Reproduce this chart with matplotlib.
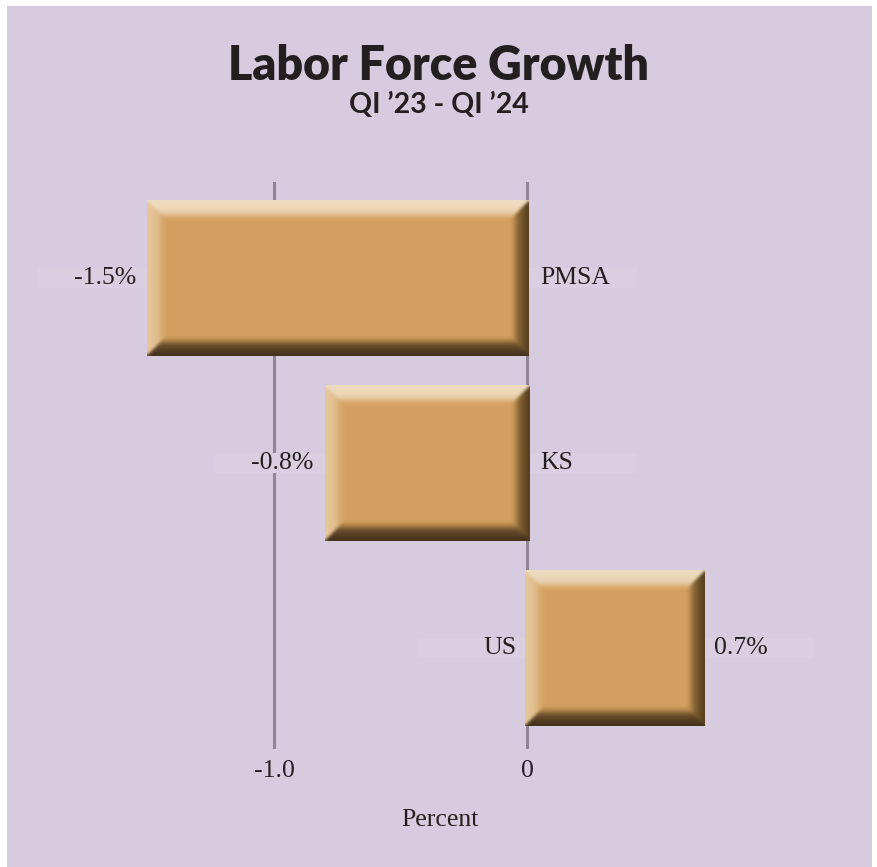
import numpy as np
import matplotlib
matplotlib.use("Agg")
import matplotlib.pyplot as plt
from matplotlib.patches import Rectangle
from matplotlib.colors import to_rgb

# Labor force growth, QI '23 - QI '24 (percent)
regions = ["PMSA", "KS", "US"]
growth = [-1.5, -0.8, 0.7]
value_labels = ["-1.5%", "-0.8%", "0.7%"]
tick_values = [-1.0, 0]
tick_labels = ["-1.0", "0"]

BG = "#D7CCDF"
BOX = "#D9CFE1"
GRID = "#8E8894"
TEXT = "#231F20"
FS = 18.5

W_PX, H_PX, DPI = 877, 867, 100
fig = plt.figure(figsize=(W_PX / DPI, H_PX / DPI), dpi=DPI, facecolor="white")

# lavender panel behind everything
fig.patches.append(Rectangle((7 / W_PX, 0), (872 - 7) / W_PX, (867 - 6) / H_PX,
                             transform=fig.transFigure, facecolor=BG,
                             edgecolor="none", zorder=-10))

# axes placed in pixel terms
ax_l, ax_r, ax_t, ax_b = 7, 872, 182, 749
ax = fig.add_axes([ax_l / W_PX, 1 - ax_b / H_PX,
                   (ax_r - ax_l) / W_PX, (ax_b - ax_t) / H_PX])
ax.set_zorder(5)
ax.set_facecolor("none")
px_per_unit = 253.0
zero_px = 527.0
xmin = -(zero_px - ax_l) / px_per_unit
xmax = (ax_r - zero_px) / px_per_unit
row_px = 185.0
first_center = 278.0
ymin_top = -(first_center - ax_t) / row_px
ymax_bot = (len(regions) - 1) + (ax_b - (first_center + row_px * (len(regions) - 1))) / row_px

bar_h = 0.84


def soften(a, r=2):
    """Average over shifted copies (edge-padded) to soften transitions."""
    H, W = a.shape[:2]
    p = np.pad(a, ((r, r), (r, r), (0, 0)), mode="edge")
    acc = np.zeros_like(a)
    n = 0
    for dy in range(2 * r + 1):
        for dx in range(2 * r + 1):
            acc += p[dy:dy + H, dx:dx + W]
            n += 1
    return acc / n


def bevel_image(width_px, height_px, bevel=16):
    """RGB array for a bevelled bar face."""
    main = np.array(to_rgb("#D4A05E"))
    top_e, top_i = np.array(to_rgb("#EFDDC2")), np.array(to_rgb("#E6CBA4"))
    left_e, left_i = np.array(to_rgb("#E6C79C")), np.array(to_rgb("#DAB07A"))
    right_e, right_i = np.array(to_rgb("#58401F")), np.array(to_rgb("#B0844A"))
    bot_e, bot_i = np.array(to_rgb("#45321C")), np.array(to_rgb("#8A6638"))
    H, W = int(round(height_px)), max(int(round(width_px)), 2)
    ii, jj = np.mgrid[0:H, 0:W].astype(float)
    d = np.stack([ii, H - 1 - ii, jj, W - 1 - jj])  # top, bottom, left, right
    face = np.argmin(d, axis=0)
    dist = np.min(d, axis=0)
    t = np.clip(dist / bevel, 0, 1)[..., None] ** 1.3
    edges = [(top_e, top_i), (bot_e, bot_i), (left_e, left_i), (right_e, right_i)]
    img = np.empty((H, W, 3))
    for k, (e, i_) in enumerate(edges):
        col = e * (1 - t) + i_ * t
        m = face == k
        img[m] = col[m]
    # soft blend into the flat face at the inner edge of the bevel
    blend = np.clip((dist - bevel + 5) / 8, 0, 1)[..., None]
    img = img * (1 - blend) + main * blend
    return np.clip(soften(img, 2), 0, 1)


for y, v in enumerate(growth):
    x0, x1 = min(0, v), max(0, v)
    if v > 0:
        x0 -= 2 / px_per_unit
    else:
        x1 += 2 / px_per_unit
    ax.barh(y, v, height=bar_h, color="#D4A05E", zorder=2)
    img = bevel_image((x1 - x0) * px_per_unit, bar_h * row_px)
    ax.imshow(img, extent=(x0, x1, y + bar_h / 2, y - bar_h / 2),
              aspect="auto", interpolation="nearest", zorder=3)

box_w = 110 / px_per_unit
box_h = 20 / row_px
txt_kw = dict(textcoords="offset pixels", va="center", fontsize=FS,
              color=TEXT, family="Liberation Serif", zorder=4)
for y, (name, v, lab) in enumerate(zip(regions, growth, value_labels)):
    if v < 0:
        # value on the far side of the bar end, name beside the zero line
        ax.add_patch(Rectangle((v - box_w, y - box_h / 2), box_w, box_h,
                               facecolor=BOX, edgecolor="none", zorder=1))
        ax.add_patch(Rectangle((0, y - box_h / 2), box_w, box_h,
                               facecolor=BOX, edgecolor="none", zorder=1))
        ax.annotate(lab, (v, y), xytext=(-11, 0), ha="right", **txt_kw)
        ax.annotate(name, (0, y), xytext=(13, 0), ha="left", **txt_kw)
    else:
        ax.add_patch(Rectangle((v, y - box_h / 2), box_w, box_h,
                               facecolor=BOX, edgecolor="none", zorder=1))
        ax.add_patch(Rectangle((-box_w, y - box_h / 2), box_w, box_h,
                               facecolor=BOX, edgecolor="none", zorder=1))
        ax.annotate(lab, (v, y), xytext=(10, 0), ha="left", **txt_kw)
        ax.annotate(name, (0, y), xytext=(-10, 0), ha="right", **txt_kw)

ax.set_xlim(xmin, xmax)
ax.set_ylim(ymax_bot, ymin_top)
ax.set_xticks(tick_values)
ax.set_xticklabels(tick_labels, family="Liberation Serif", fontsize=FS, color=TEXT)
ax.set_yticks([])
ax.tick_params(axis="x", length=0, pad=8)
ax.grid(axis="x", color=GRID, linewidth=2.2, zorder=0)
ax.set_axisbelow(True)
for s in ax.spines.values():
    s.set_visible(False)
ax.set_xlabel("Percent", family="Liberation Serif", fontsize=FS, color=TEXT)
ax.xaxis.set_label_coords(0.5, -(820 - ax_b) / (ax_b - ax_t))
ax.xaxis.label.set_va("center")

fig.text(438.5 / W_PX, 1 - 80 / H_PX, "Labor Force Growth", ha="center",
         va="baseline", family="Lato", fontweight="heavy", fontsize=33.5, color=TEXT)
fig.text(438.5 / W_PX, 1 - 113 / H_PX, "QI \u201923 - QI \u201924", ha="center",
         va="baseline", family="Lato", fontweight="bold", fontsize=20.5, color=TEXT)

fig.savefig("out.png", dpi=DPI, facecolor="white")
